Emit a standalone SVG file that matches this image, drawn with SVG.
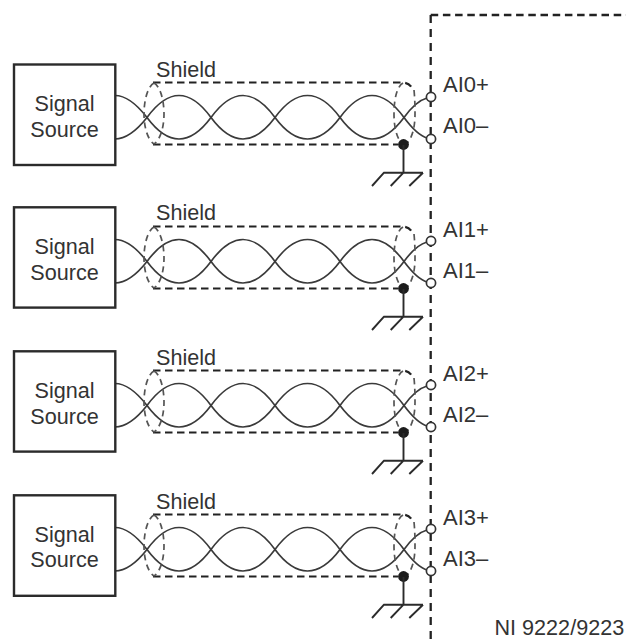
<svg xmlns="http://www.w3.org/2000/svg" width="626" height="643" viewBox="0 0 626 643">
<style>
text{font-family:"Liberation Sans",Arial,sans-serif;font-size:21.6px;fill:#333}
.m{text-anchor:middle}
.ai{font-size:22px}
.box{fill:#fff;stroke:#2b2b2b;stroke-width:2.4}
.w{fill:none;stroke:#3a3a3a;stroke-width:1.7}
.sh{fill:none;stroke:#222;stroke-width:2.2;stroke-dasharray:7.500 4.500}
.el{fill:none;stroke:#555;stroke-width:1.7;stroke-dasharray:6 4.500}
.t{fill:#fff;stroke:#333;stroke-width:1.7}
.g{fill:none;stroke:#2b2b2b;stroke-width:1.9}
.bh{fill:none;stroke:#222;stroke-width:2.3;stroke-dasharray:7.500 4.700}
.bv{fill:none;stroke:#222;stroke-width:2.3;stroke-dasharray:8 6}
</style>
<defs>
<g id="wires">
<path class="w" d="M115 95.500Q130 95.500 147 117.500Q163 139 179 139Q195 139 211 117.500Q227 95.500 243 95.500Q259 95.500 275 117.500Q291 139 307.500 139Q324 139 340 117.500Q356 95.500 372 95.500Q388 95.500 404 117.500Q417 135 427 138"/>
<path class="w" d="M115 139Q130 139 147 117.500Q163 95.500 179 95.500Q195 95.500 211 117.500Q227 139 243 139Q259 139 275 117.500Q291 95.500 307.500 95.500Q324 95.500 340 117.500Q356 139 372 139Q388 139 404 117.500Q416 101 427 98"/>
</g>
<g id="shield">
<path class="sh" d="M153 82.500H402Q410 82.500 413 90"/>
<path class="sh" d="M153 144.500H398"/>
<path class="el" d="M154 83C147 87 144 102 144 114C144 128 148 140 154 144"/>
<path class="el" d="M154 83C161 87 164 102 164 114C164 128 160 140 154 144"/>
<path class="el" d="M403 83C396 87 394 102 394 114C394 128 397 138 401 142"/>
<path class="el" d="M414 90C415 100 415 108 415 114C415 128 412 138 407 143"/>
</g>
<g id="ground">
<circle cx="403.500" cy="144.500" r="5.400" fill="#1c1c1c"/>
<path class="g" d="M403.500 145V172.700M383.500 172.700H423M384 172.700L372 186M403.500 172.700L390.700 186M423 172.700L409.300 186"/>
</g>
</defs>
<g id="connectors">
<path class="bh" d="M430.700 15H626"/>
<path class="bv" d="M430.700 15V643"/>
<use href="#wires"/><use href="#shield"/><use href="#ground"/>
<use href="#wires" y="144"/><use href="#shield" y="144"/><use href="#ground" y="144"/>
<use href="#wires" y="288"/><use href="#shield" y="288"/><use href="#ground" y="288"/>
<use href="#wires" y="432"/><use href="#shield" y="432"/><use href="#ground" y="432"/>
</g>
<g id="source0"><rect class="box" x="14" y="64.500" width="101.300" height="100.500"/><text class="m" x="64.500" y="111">Signal</text><text class="m" x="64.500" y="136.700">Source</text></g>
<g id="source1"><rect class="box" x="14" y="207.300" width="101.300" height="100.300"/><text class="m" x="64.500" y="254">Signal</text><text class="m" x="64.500" y="279.500">Source</text></g>
<g id="source2"><rect class="box" x="14" y="351.300" width="101.300" height="100.300"/><text class="m" x="64.500" y="398">Signal</text><text class="m" x="64.500" y="423.500">Source</text></g>
<g id="source3"><rect class="box" x="14" y="495.300" width="101.300" height="100.500"/><text class="m" x="64.500" y="541.700">Signal</text><text class="m" x="64.500" y="567.300">Source</text></g>
<g id="shield0"><text x="156" y="76.500">Shield</text></g>
<g id="shield1"><text x="156" y="220">Shield</text></g>
<g id="shield2"><text x="156" y="364.500">Shield</text></g>
<g id="shield3"><text x="156" y="508.500">Shield</text></g>
<g id="ai0"><circle class="t" cx="431" cy="97" r="4.600"/><circle class="t" cx="431" cy="139" r="4.600"/><text class="ai" x="443" y="91.700">AI0+</text><text class="ai" x="443" y="133.300">AI0–</text></g>
<g id="ai1"><circle class="t" cx="431" cy="241" r="4.600"/><circle class="t" cx="431" cy="283" r="4.600"/><text class="ai" x="443" y="236.700">AI1+</text><text class="ai" x="443" y="278.300">AI1–</text></g>
<g id="ai2"><circle class="t" cx="431" cy="385" r="4.600"/><circle class="t" cx="431" cy="427" r="4.600"/><text class="ai" x="443" y="380.700">AI2+</text><text class="ai" x="443" y="422.300">AI2–</text></g>
<g id="ai3"><circle class="t" cx="431" cy="529" r="4.600"/><circle class="t" cx="431" cy="571" r="4.600"/><text class="ai" x="443" y="524.500">AI3+</text><text class="ai" x="443" y="566">AI3–</text></g>
<g id="device"><text x="494.500" y="634.500">NI 9222/9223</text></g>
</svg>
